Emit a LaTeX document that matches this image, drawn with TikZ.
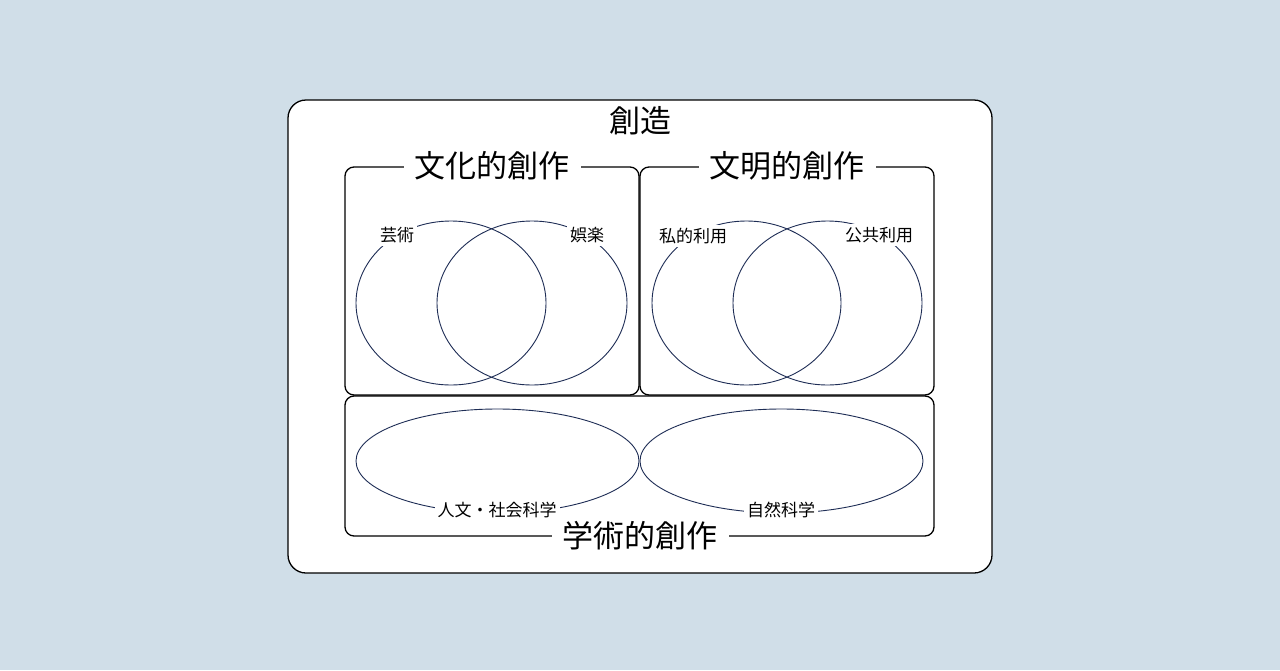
\documentclass[tikz,border=0pt]{standalone}
\usepackage{fontspec}
\setmainfont{Noto Sans CJK JP}
\begin{document}
\begin{tikzpicture}[x=1pt,y=-1pt,
  box/.style={draw=black,line width=1.3pt,fill=white},
  venn/.style={draw=navy,line width=0.9pt},
  big/.style={font=\fontsize{31}{34}\selectfont,fill=white,inner sep=11pt,inner ysep=0pt},
  lab/.style={font=\fontsize{17}{20}\selectfont,fill=white,inner sep=3pt}]
\definecolor{bg}{HTML}{D0DEE8}
\definecolor{navy}{HTML}{1E2D55}
\fill[bg] (0,0) rectangle (1280,670);
\useasboundingbox (0,0) rectangle (1280,670);
\draw[box,rounded corners=18pt] (288,100) rectangle (992,573);
\node[font=\fontsize{31}{34}\selectfont] (title) at (640,121) {創造};
% boxes
\draw[box,rounded corners=9pt] (345,167) rectangle (639,395);
\draw[box,rounded corners=9pt] (640,167) rectangle (934,395);
\draw[box,rounded corners=9pt] (345,396) rectangle (934,536);
% ellipses top left
\draw[venn] (451,303) ellipse [x radius=95,y radius=82];
\draw[venn] (532,303) ellipse [x radius=95,y radius=82];
% top right
\draw[venn] (746.5,303) ellipse [x radius=94.5,y radius=82];
\draw[venn] (827.5,303) ellipse [x radius=94.5,y radius=82];
% bottom
\draw[venn] (497.5,461) ellipse [x radius=141.5,y radius=52];
\draw[venn] (781.5,461) ellipse [x radius=141.5,y radius=52];
% labels
\node[lab] (geijutsu) at (397,235) {芸術};
\node[lab] (goraku) at (587,235) {娯楽};
\node[lab] (shiteki) at (693,236) {私的利用};
\node[lab] (kokyo) at (879,235) {公共利用};
\node[lab] (jinbun) at (497,510) {人文・社会科学};
\node[lab] (shizen) at (781,510) {自然科学};
\node[big] (bunka) at (492,166) {文化的創作};
\node[big] (bunmei) at (787,166) {文明的創作};
\node[big] (gakujutsu) at (640,536) {学術的創作};
\end{tikzpicture}
\end{document}
